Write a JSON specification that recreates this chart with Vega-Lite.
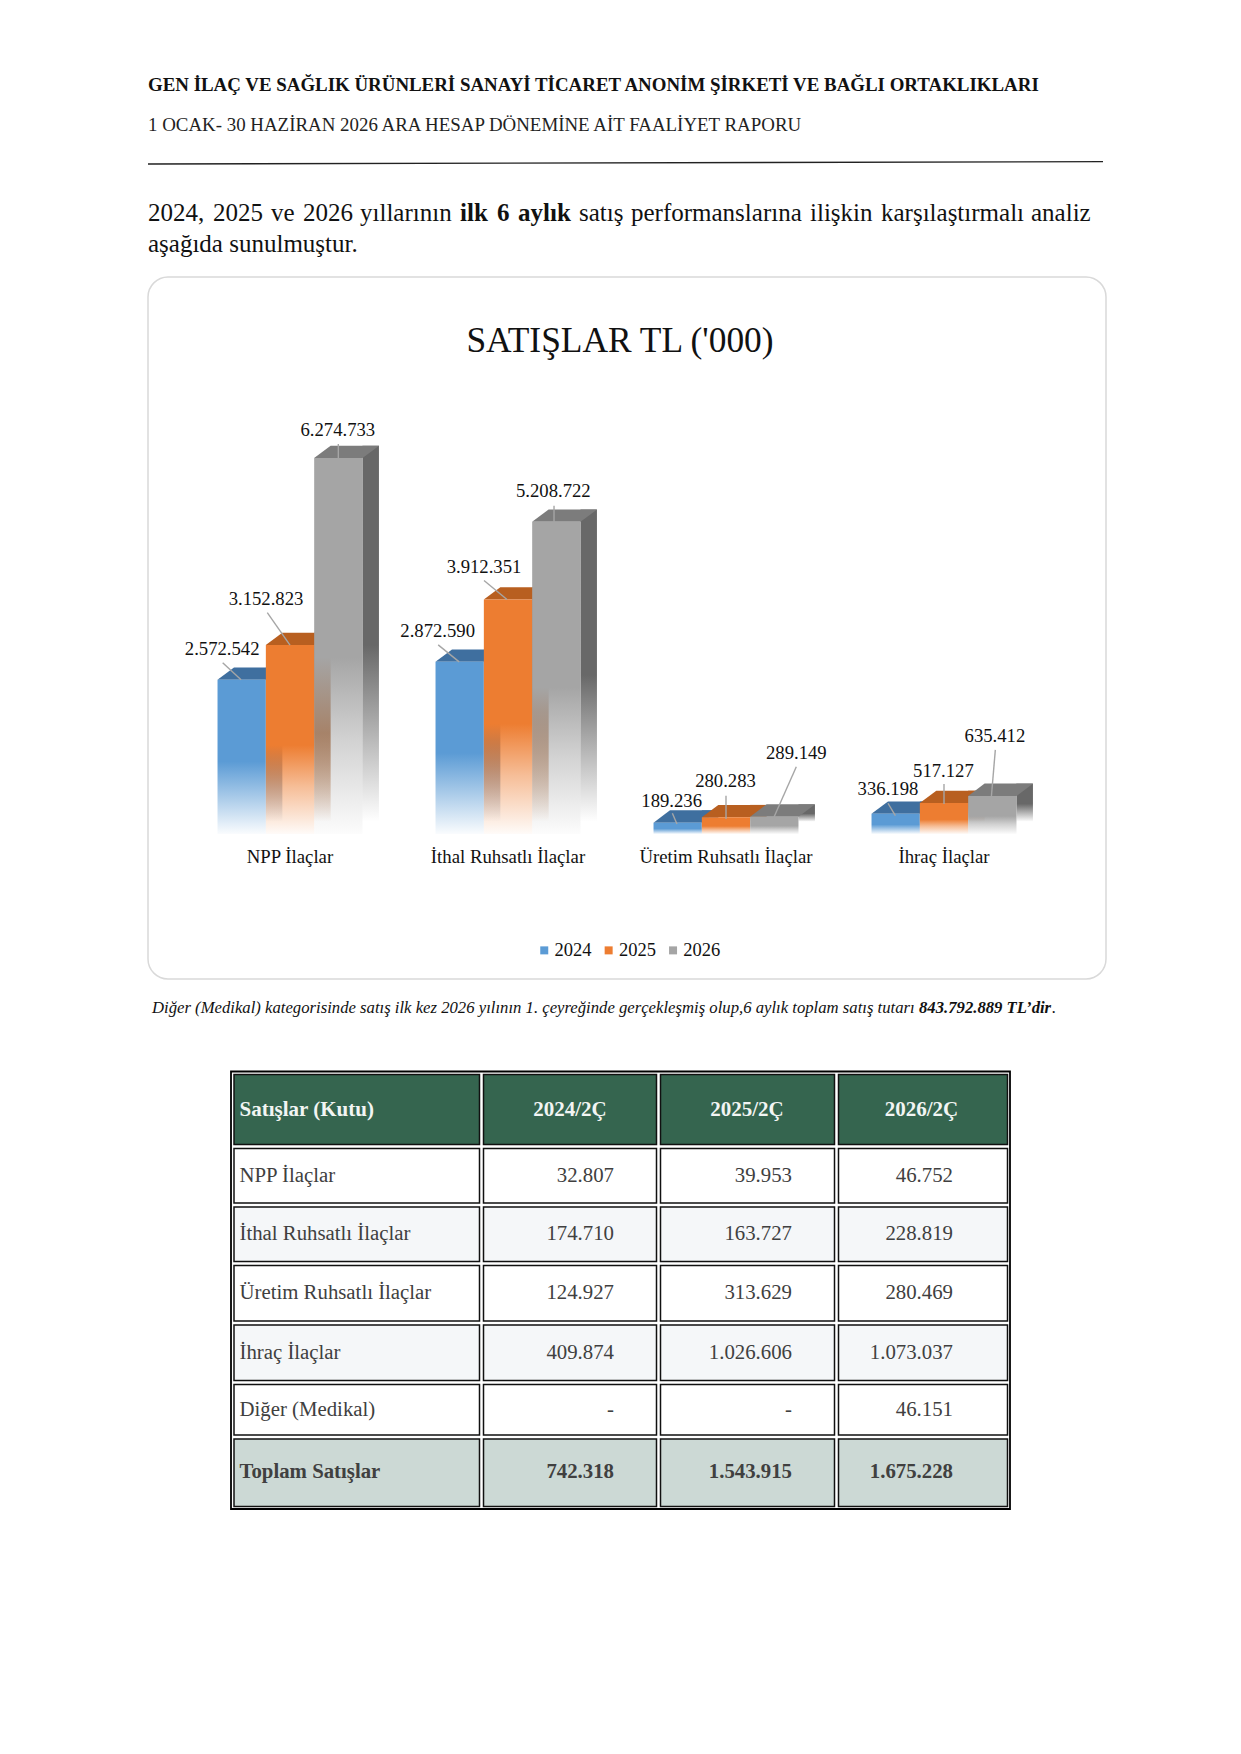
{
"$schema":"https://vega.github.io/schema/vega-lite/v6.json",
"background":"white",
"padding":{"left":145,"top":0,"right":138,"bottom":0},
"bounds":"flush",
"spacing":0,
"config":{"font":"Liberation Serif","view":{"stroke":null},"concat":{"spacing":0}},
"datasets":{
"ust":[
{"satir":1,"kelime":0,"metin":"GEN İLAÇ VE SAĞLIK ÜRÜNLERİ SANAYİ TİCARET ANONİM ŞİRKETİ VE BAĞLI ORTAKLIKLARI","stil":"baslik"},
{"satir":2,"kelime":0,"metin":"1 OCAK- 30 HAZİRAN 2026 ARA HESAP DÖNEMİNE AİT FAALİYET RAPORU","stil":"altbaslik"},
{"satir":4,"kelime":0,"metin":"2024,","stil":"govde"},
{"satir":4,"kelime":1,"metin":"2025","stil":"govde"},
{"satir":4,"kelime":2,"metin":"ve","stil":"govde"},
{"satir":4,"kelime":3,"metin":"2026","stil":"govde"},
{"satir":4,"kelime":4,"metin":"yıllarının","stil":"govde"},
{"satir":4,"kelime":5,"metin":"ilk","stil":"vurgu"},
{"satir":4,"kelime":6,"metin":"6","stil":"vurgu"},
{"satir":4,"kelime":7,"metin":"aylık","stil":"vurgu"},
{"satir":4,"kelime":8,"metin":"satış","stil":"govde"},
{"satir":4,"kelime":9,"metin":"performanslarına","stil":"govde"},
{"satir":4,"kelime":10,"metin":"ilişkin","stil":"govde"},
{"satir":4,"kelime":11,"metin":"karşılaştırmalı","stil":"govde"},
{"satir":4,"kelime":12,"metin":"analiz","stil":"govde"},
{"satir":5,"kelime":0,"metin":"aşağıda sunulmuştur.","stil":"govde"}
],
"cizgi":[{"kelime":0,"satir":3},{"kelime":13,"satir":2.94}],
"satislar":[
{"id":"A1","kategori":"NPP İlaçlar","yil":"2024","deger":2572542,"etiket":"2.572.542"},
{"id":"A2","kategori":"NPP İlaçlar","yil":"2025","deger":3152823,"etiket":"3.152.823"},
{"id":"A3","kategori":"NPP İlaçlar","yil":"2026","deger":6274733,"etiket":"6.274.733"},
{"id":"B1","kategori":"İthal Ruhsatlı İlaçlar","yil":"2024","deger":2872590,"etiket":"2.872.590"},
{"id":"B2","kategori":"İthal Ruhsatlı İlaçlar","yil":"2025","deger":3912351,"etiket":"3.912.351"},
{"id":"B3","kategori":"İthal Ruhsatlı İlaçlar","yil":"2026","deger":5208722,"etiket":"5.208.722"},
{"id":"C1","kategori":"Üretim Ruhsatlı İlaçlar","yil":"2024","deger":189236,"etiket":"189.236"},
{"id":"C2","kategori":"Üretim Ruhsatlı İlaçlar","yil":"2025","deger":280283,"etiket":"280.283"},
{"id":"C3","kategori":"Üretim Ruhsatlı İlaçlar","yil":"2026","deger":289149,"etiket":"289.149"},
{"id":"D1","kategori":"İhraç İlaçlar","yil":"2024","deger":336198,"etiket":"336.198"},
{"id":"D2","kategori":"İhraç İlaçlar","yil":"2025","deger":517127,"etiket":"517.127"},
{"id":"D3","kategori":"İhraç İlaçlar","yil":"2026","deger":635412,"etiket":"635.412"}
],
"not":[
{"parca":0,"metin":"Diğer (Medikal) kategorisinde satış ilk kez 2026 yılının 1. çeyreğinde gerçekleşmiş olup,6 aylık toplam satış tutarı","stil":"italik"},
{"parca":1,"metin":"843.792.889 TL’dir","stil":"kalin"},
{"parca":2,"metin":".","stil":"italik"}
],
"tablo":[
{"sira":0,"siraSon":1,"merkez":0.5,"sutun":0,"sutunSon":1,"tur":"baslik","metin":"Satışlar (Kutu)"},
{"sira":0,"siraSon":1,"merkez":0.5,"sutun":1,"sutunSon":2,"tur":"baslik","metin":"2024/2Ç"},
{"sira":0,"siraSon":1,"merkez":0.5,"sutun":2,"sutunSon":3,"tur":"baslik","metin":"2025/2Ç"},
{"sira":0,"siraSon":1,"merkez":0.5,"sutun":3,"sutunSon":4,"tur":"baslik","metin":"2026/2Ç"},
{"sira":1,"siraSon":2,"merkez":1.5,"sutun":0,"sutunSon":1,"tur":"tek","metin":"NPP İlaçlar"},
{"sira":1,"siraSon":2,"merkez":1.5,"sutun":1,"sutunSon":2,"tur":"tek","metin":"32.807"},
{"sira":1,"siraSon":2,"merkez":1.5,"sutun":2,"sutunSon":3,"tur":"tek","metin":"39.953"},
{"sira":1,"siraSon":2,"merkez":1.5,"sutun":3,"sutunSon":4,"tur":"tek","metin":"46.752"},
{"sira":2,"siraSon":3,"merkez":2.5,"sutun":0,"sutunSon":1,"tur":"cift","metin":"İthal Ruhsatlı İlaçlar"},
{"sira":2,"siraSon":3,"merkez":2.5,"sutun":1,"sutunSon":2,"tur":"cift","metin":"174.710"},
{"sira":2,"siraSon":3,"merkez":2.5,"sutun":2,"sutunSon":3,"tur":"cift","metin":"163.727"},
{"sira":2,"siraSon":3,"merkez":2.5,"sutun":3,"sutunSon":4,"tur":"cift","metin":"228.819"},
{"sira":3,"siraSon":4,"merkez":3.5,"sutun":0,"sutunSon":1,"tur":"tek","metin":"Üretim Ruhsatlı İlaçlar"},
{"sira":3,"siraSon":4,"merkez":3.5,"sutun":1,"sutunSon":2,"tur":"tek","metin":"124.927"},
{"sira":3,"siraSon":4,"merkez":3.5,"sutun":2,"sutunSon":3,"tur":"tek","metin":"313.629"},
{"sira":3,"siraSon":4,"merkez":3.5,"sutun":3,"sutunSon":4,"tur":"tek","metin":"280.469"},
{"sira":4,"siraSon":5,"merkez":4.5,"sutun":0,"sutunSon":1,"tur":"cift","metin":"İhraç İlaçlar"},
{"sira":4,"siraSon":5,"merkez":4.5,"sutun":1,"sutunSon":2,"tur":"cift","metin":"409.874"},
{"sira":4,"siraSon":5,"merkez":4.5,"sutun":2,"sutunSon":3,"tur":"cift","metin":"1.026.606"},
{"sira":4,"siraSon":5,"merkez":4.5,"sutun":3,"sutunSon":4,"tur":"cift","metin":"1.073.037"},
{"sira":5,"siraSon":6,"merkez":5.5,"sutun":0,"sutunSon":1,"tur":"tek","metin":"Diğer (Medikal)"},
{"sira":5,"siraSon":6,"merkez":5.5,"sutun":1,"sutunSon":2,"tur":"tek","metin":"-"},
{"sira":5,"siraSon":6,"merkez":5.5,"sutun":2,"sutunSon":3,"tur":"tek","metin":"-"},
{"sira":5,"siraSon":6,"merkez":5.5,"sutun":3,"sutunSon":4,"tur":"tek","metin":"46.151"},
{"sira":6,"siraSon":7,"merkez":6.5,"sutun":0,"sutunSon":1,"tur":"toplam","metin":"Toplam Satışlar"},
{"sira":6,"siraSon":7,"merkez":6.5,"sutun":1,"sutunSon":2,"tur":"toplam","metin":"742.318"},
{"sira":6,"siraSon":7,"merkez":6.5,"sutun":2,"sutunSon":3,"tur":"toplam","metin":"1.543.915"},
{"sira":6,"siraSon":7,"merkez":6.5,"sutun":3,"sutunSon":4,"tur":"toplam","metin":"1.675.228"}
],
"cerceve":[{"sira":0,"siraSon":7,"sutun":0,"sutunSon":4}]
},
"vconcat":[
{
"width":958,"height":277,
"layer":[
{"data":{"name":"cizgi"},"mark":{"type":"line","stroke":"#222222","strokeWidth":1.4},
 "encoding":{"x":{"field":"kelime","type":"quantitative","scale":{"domain":[0,1,2,3,4,5,6,7,8,9,10,11,12,13],"range":[0,65,123,155,212,312,349,370,431,483,662,733,883,955]},"axis":null},
 "y":{"field":"satir","type":"quantitative","scale":{"domain":[1,2,3,4,5],"range":[85,125,164,213,244]},"axis":null}}},
{"data":{"name":"ust"},
 "encoding":{"x":{"field":"kelime","type":"quantitative"},"y":{"field":"satir","type":"quantitative"},"text":{"field":"metin"}},
 "layer":[
  {"transform":[{"filter":"datum.stil==='baslik'"}],"mark":{"type":"text","align":"left","baseline":"middle","fontSize":18.9,"fontWeight":"bold","fill":"#111111"}},
  {"transform":[{"filter":"datum.stil==='altbaslik'"}],"mark":{"type":"text","align":"left","baseline":"middle","fontSize":18.9,"fill":"#222222"}},
  {"transform":[{"filter":"datum.stil==='govde'"}],"mark":{"type":"text","align":"left","baseline":"middle","fontSize":25,"fill":"#111111"}},
  {"transform":[{"filter":"datum.stil==='vurgu'"}],"mark":{"type":"text","align":"left","baseline":"middle","fontSize":25,"fontWeight":"bold","fill":"#111111"}}
 ]}
]},
{
"width":958,"height":702,
"view":{"stroke":"#d9d9d9","strokeWidth":1.5,"cornerRadius":20,"fill":"white"},
"title":{"text":"SATIŞLAR TL ('000)","fontSize":35.4,"fontWeight":"normal","color":"#111111","anchor":"middle","dx":-7,"offset":-82},
"data":{"name":"satislar"},
"encoding":{
 "x":{"field":"kategori","type":"nominal","sort":null,"scale":{"domain":["NPP İlaçlar","İthal Ruhsatlı İlaçlar","Üretim Ruhsatlı İlaçlar","İhraç İlaçlar"],"range":[33,905],"paddingInner":0.335,"paddingOuter":0.1675},
   "axis":{"title":null,"domain":false,"ticks":false,"labelAngle":0,"labelFontSize":18.8,"labelColor":"#111111","labelFont":"Liberation Serif","offset":-132,"labelPadding":0,"grid":false}},
 "xOffset":{"field":"yil","type":"nominal","sort":null},
 "y":{"field":"deger","type":"quantitative","scale":{"domain":[-2419760,9295000],"nice":false,"zero":false},"axis":null}
},
"layer":[
 {"transform":[{"filter":"datum.yil==='2024'"}],"layer":[
  {"mark":{"type":"rect","width":16.5,"xOffset":-15.9,"yOffset":-12.3,"y2Offset":-12.3,"fill":{"gradient":"linear","x1":0,"y1":0,"x2":0,"y2":1,"stops":[{"offset":0,"color":"#3d6f9e"},{"offset":0.53,"color":"#3d6f9e"},{"offset":1,"color":"rgba(61,111,158,0)"}]}},"encoding":{"xOffset":null,"y2":{"datum":0}}},
  {"mark":{"type":"point","filled":true,"size":4,"opacity":1,"fill":"#3f6f9f","shape":"M-24.2,0L-7.7,-12.3L40.8,-12.3L24.2,0Z"}},
  {"mark":{"type":"rect","width":48.3,"fill":{"gradient":"linear","x1":0,"y1":0,"x2":0,"y2":1,"stops":[{"offset":0,"color":"#5b9bd5"},{"offset":0.53,"color":"#5b9bd5"},{"offset":0.75,"color":"rgba(91,155,213,0.55)"},{"offset":1,"color":"rgba(91,155,213,0.03)"}]}},"encoding":{"y2":{"datum":0}}}
 ]},
 {"transform":[{"filter":"datum.yil==='2025'"}],"layer":[
  {"mark":{"type":"rect","width":16.5,"xOffset":32.4,"yOffset":-12.3,"y2Offset":-12.3,"fill":{"gradient":"linear","x1":0,"y1":0,"x2":0,"y2":1,"stops":[{"offset":0,"color":"#a85a22"},{"offset":0.53,"color":"#a85a22"},{"offset":1,"color":"rgba(168,90,34,0)"}]}},"encoding":{"xOffset":null,"y2":{"datum":0}}},
  {"mark":{"type":"point","filled":true,"size":4,"opacity":1,"fill":"#b85f20","shape":"M-24.2,0L-7.7,-12.3L40.8,-12.3L24.2,0Z"}},
  {"mark":{"type":"rect","width":48.3,"fill":{"gradient":"linear","x1":0,"y1":0,"x2":0,"y2":1,"stops":[{"offset":0,"color":"#ed7d31"},{"offset":0.53,"color":"#ed7d31"},{"offset":0.75,"color":"rgba(237,125,49,0.5)"},{"offset":1,"color":"rgba(237,125,49,0.03)"}]}},"encoding":{"y2":{"datum":0}}}
 ]},
 {"transform":[{"filter":"datum.yil==='2026'"}],"layer":[
  {"mark":{"type":"rect","width":16.5,"xOffset":80.7,"yOffset":-12.3,"y2Offset":-12.3,"fill":{"gradient":"linear","x1":0,"y1":0,"x2":0,"y2":1,"stops":[{"offset":0,"color":"#686868"},{"offset":0.53,"color":"#686868"},{"offset":1,"color":"rgba(104,104,104,0)"}]}},"encoding":{"xOffset":null,"y2":{"datum":0}}},
  {"mark":{"type":"point","filled":true,"size":4,"opacity":1,"fill":"#7c7c7c","shape":"M-24.2,0L-7.7,-12.3L40.8,-12.3L24.2,0Z"}},
  {"mark":{"type":"rect","width":48.3,"fill":{"gradient":"linear","x1":0,"y1":0,"x2":0,"y2":1,"stops":[{"offset":0,"color":"#a5a5a5"},{"offset":0.53,"color":"#a5a5a5"},{"offset":0.75,"color":"rgba(165,165,165,0.5)"},{"offset":1,"color":"rgba(165,165,165,0.03)"}]}},"encoding":{"y2":{"datum":0}}}
 ]},
 {"mark":{"type":"point","filled":false,"size":4,"opacity":1,"stroke":"#a6a6a6","strokeWidth":1.4},
  "encoding":{"shape":{"field":"id","type":"nominal","legend":null,"scale":{"domain":["A1","A2","A3","B1","B2","B3","C1","C2","C3","D1","D2","D3"],
   "range":["M-19,-17L-0.6,0","M-22.7,-32.4L0,0","M0,-14L0,0","M-21.5,-17L-0.5,0","M-24,-19L-1,0","M-2.3,-16L-2.3,0","M-5.3,-9.4L-0.7,1.3","M0,-21.5L0,1.8","M22,-50L-0.4,0.6","M-7.7,-10.6L-0.3,1.8","M0,-19L0,1","M3,-46L-1,1.3"]}}}},
 {"encoding":{"text":{"field":"etiket"}},"layer":[
  {"transform":[{"filter":"datum.id==='A1'"}],"mark":{"type":"text","fontSize":18.7,"fill":"#111111","dx":-19.5,"dy":-31}},
  {"transform":[{"filter":"datum.id==='A2'"}],"mark":{"type":"text","fontSize":18.7,"fill":"#111111","dx":-24,"dy":-46.5}},
  {"transform":[{"filter":"datum.id==='A3'"}],"mark":{"type":"text","fontSize":18.7,"fill":"#111111","dx":-0.5,"dy":-28}},
  {"transform":[{"filter":"datum.id==='B1'"}],"mark":{"type":"text","fontSize":18.7,"fill":"#111111","dx":-22,"dy":-31}},
  {"transform":[{"filter":"datum.id==='B2'"}],"mark":{"type":"text","fontSize":18.7,"fill":"#111111","dx":-24,"dy":-33}},
  {"transform":[{"filter":"datum.id==='B3'"}],"mark":{"type":"text","fontSize":18.7,"fill":"#111111","dx":-3,"dy":-31}},
  {"transform":[{"filter":"datum.id==='C1'"}],"mark":{"type":"text","fontSize":18.7,"fill":"#111111","dx":-6,"dy":-21.7}},
  {"transform":[{"filter":"datum.id==='C2'"}],"mark":{"type":"text","fontSize":18.7,"fill":"#111111","dx":-0.5,"dy":-36}},
  {"transform":[{"filter":"datum.id==='C3'"}],"mark":{"type":"text","fontSize":18.7,"fill":"#111111","dx":22,"dy":-64}},
  {"transform":[{"filter":"datum.id==='D1'"}],"mark":{"type":"text","fontSize":18.7,"fill":"#111111","dx":-7.7,"dy":-25}},
  {"transform":[{"filter":"datum.id==='D2'"}],"mark":{"type":"text","fontSize":18.7,"fill":"#111111","dx":-0.6,"dy":-32}},
  {"transform":[{"filter":"datum.id==='D3'"}],"mark":{"type":"text","fontSize":18.7,"fill":"#111111","dx":2.6,"dy":-60}}
 ]},
 {"mark":{"type":"point","filled":true,"opacity":0,"size":1},
  "encoding":{"color":{"field":"yil","type":"nominal","scale":{"domain":["2024","2025","2026"],"range":["#5b9bd5","#ed7d31","#a5a5a5"]},
   "legend":{"title":null,"orient":"none","legendX":387,"legendY":941,"direction":"horizontal","columns":3,"symbolType":"square","symbolSize":64,"symbolOpacity":1,"symbolStrokeWidth":0,"labelFontSize":18.5,"labelColor":"#111111","labelFont":"Liberation Serif","columnPadding":7.4,"labelOffset":1}}}}
]
},
{
"width":958,"height":58,
"data":{"name":"not"},
"encoding":{"x":{"field":"parca","type":"quantitative","scale":{"domain":[0,1,2],"range":[4,771,904]},"axis":null},"text":{"field":"metin"}},
"layer":[
 {"transform":[{"filter":"datum.stil==='italik'"}],"mark":{"type":"text","align":"left","baseline":"middle","fontSize":16.7,"fontStyle":"italic","fill":"#111111"}},
 {"transform":[{"filter":"datum.stil==='kalin'"}],"mark":{"type":"text","align":"left","baseline":"middle","fontSize":16.7,"fontStyle":"italic","fontWeight":"bold","fill":"#111111"}}
]
},
{
"width":958,"height":717,
"encoding":{
 "x":{"field":"sutun","type":"quantitative","scale":{"domain":[0,1,2,3,4],"range":[83.5,333,510,688,861]},"axis":null},
 "y":{"field":"sira","type":"quantitative","scale":{"domain":[0,1,2,3,4,5,6,7],"range":[35,109,167.5,226,285.5,345,399.5,471]},"axis":null}
},
"layer":[
 {"data":{"name":"cerceve"},"mark":{"type":"rect","fill":null,"stroke":"#000000","strokeWidth":1.8,"xOffset":-0.5,"x2Offset":1,"yOffset":-0.5,"y2Offset":1},
  "encoding":{"x2":{"field":"sutunSon"},"y2":{"field":"siraSon"}}},
 {"data":{"name":"tablo"},"layer":[
  {"mark":{"type":"rect","stroke":"#111111","strokeWidth":1.5,"xOffset":2.5,"x2Offset":-1.5,"yOffset":2.5,"y2Offset":-1.5},
   "encoding":{"x2":{"field":"sutunSon"},"y2":{"field":"siraSon"},
   "fill":{"field":"tur","type":"nominal","legend":null,"scale":{"domain":["baslik","tek","cift","toplam"],"range":["#35654f","#ffffff","#f5f7f9","#ccd9d5"]}}}},
  {"encoding":{"y":{"field":"merkez","type":"quantitative"},"text":{"field":"metin"}},"layer":[
   {"transform":[{"filter":"datum.tur==='baslik'&&datum.sutun===0"}],"mark":{"type":"text","align":"left","baseline":"middle","dx":8,"dy":0.5,"fontSize":21,"fontWeight":"bold","fill":"#f2f5f3"}},
   {"transform":[{"filter":"datum.tur==='baslik'&&(datum.sutun===1||datum.sutun===2)"}],"mark":{"type":"text","align":"center","baseline":"middle","dx":89,"dy":0.5,"fontSize":21,"fontWeight":"bold","fill":"#f2f5f3"}},
   {"transform":[{"filter":"datum.tur==='baslik'&&datum.sutun===3"}],"mark":{"type":"text","align":"center","baseline":"middle","dx":85.5,"dy":0.5,"fontSize":21,"fontWeight":"bold","fill":"#f2f5f3"}},
   {"transform":[{"filter":"(datum.tur==='tek'||datum.tur==='cift')&&datum.sutun===0"}],"mark":{"type":"text","align":"left","baseline":"middle","dx":8,"dy":0.5,"fontSize":20.8,"fill":"#404040"}},
   {"transform":[{"filter":"datum.tur==='toplam'&&datum.sutun===0"}],"mark":{"type":"text","align":"left","baseline":"middle","dx":8,"fontSize":20.8,"fontWeight":"bold","fill":"#404040"}},
   {"transform":[{"filter":"(datum.tur==='tek'||datum.tur==='cift')&&(datum.sutun===1||datum.sutun===2)"}],"mark":{"type":"text","align":"right","baseline":"middle","dx":-44,"dy":0.5,"fontSize":20.8,"fill":"#404040"},"encoding":{"x":{"field":"sutunSon","type":"quantitative"}}},
   {"transform":[{"filter":"(datum.tur==='tek'||datum.tur==='cift')&&datum.sutun===3"}],"mark":{"type":"text","align":"right","baseline":"middle","dx":-56,"dy":0.5,"fontSize":20.8,"fill":"#404040"},"encoding":{"x":{"field":"sutunSon","type":"quantitative"}}},
   {"transform":[{"filter":"datum.tur==='toplam'&&(datum.sutun===1||datum.sutun===2)"}],"mark":{"type":"text","align":"right","baseline":"middle","dx":-44,"fontSize":20.8,"fontWeight":"bold","fill":"#404040"},"encoding":{"x":{"field":"sutunSon","type":"quantitative"}}},
   {"transform":[{"filter":"datum.tur==='toplam'&&datum.sutun===3"}],"mark":{"type":"text","align":"right","baseline":"middle","dx":-56,"fontSize":20.8,"fontWeight":"bold","fill":"#404040"},"encoding":{"x":{"field":"sutunSon","type":"quantitative"}}}
  ]}
 ]}
]
}
]
}
